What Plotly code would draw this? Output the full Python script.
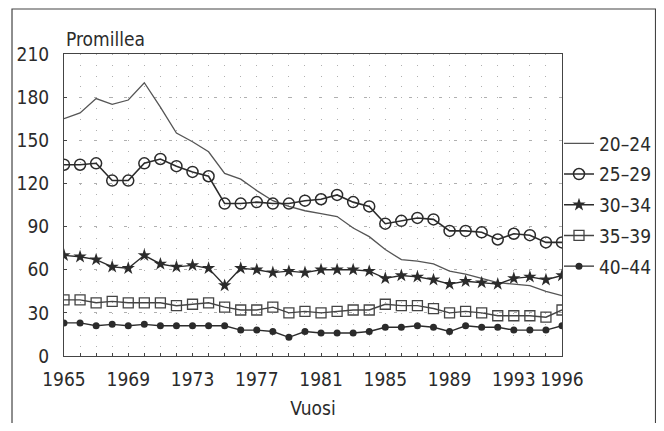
import plotly.graph_objects as go

years = list(range(1965, 1997))

s20_24 = [165, 169, 179, 175, 178, 190, 173, 155, 149, 142, 127, 123, 115, 108, 104, 101,
          99, 97, 89, 83, 74, 67, 66, 64, 59, 57, 54, 51, 50, 49, 45, 42]
s25_29 = [133, 133, 134, 122, 122, 134, 137, 132, 128, 125, 106, 106, 107, 106, 106, 108,
          109, 112, 107, 104, 92, 94, 96, 95, 87, 87, 86, 81, 85, 84, 79, 79]
s30_34 = [70, 69, 67, 62, 61, 70, 64, 62, 63, 61, 49, 61, 60, 58, 59, 58,
          60, 60, 60, 59, 54, 56, 55, 53, 50, 52, 51, 50, 54, 55, 53, 56]
s35_39 = [39, 39, 37, 38, 37, 37, 37, 35, 36, 37, 34, 32, 32, 34, 30, 31,
          30, 31, 32, 32, 36, 35, 35, 33, 30, 31, 30, 28, 28, 28, 27, 32]
s40_44 = [23, 23, 21, 22, 21, 22, 21, 21, 21, 21, 21, 18, 18, 17, 13, 17,
          16, 16, 16, 17, 20, 20, 21, 20, 17, 21, 20, 20, 18, 18, 18, 21]

labels = ["20\u201324", "25\u201329", "30\u201334", "35\u201339", "40\u201344"]
xticks = [1965, 1969, 1973, 1977, 1981, 1985, 1989, 1993, 1996]
yticks = [0, 30, 60, 90, 120, 150, 180, 210]

FONT = "Liberation Sans Narrow, Arial Narrow, DejaVu Sans Condensed, sans-serif"
INK = "#2b2b2b"

styles = [
    dict(line=dict(color="#555555", width=1.3), mode="lines", marker=None),
    dict(line=dict(color=INK, width=1.6), mode="lines+markers",
         marker=dict(symbol="circle-open", size=11, color=INK, line=dict(width=1.5))),
    dict(line=dict(color=INK, width=1.4), mode="lines+markers",
         marker=dict(symbol="star", size=10, color=INK)),
    dict(line=dict(color="#444444", width=1.4), mode="lines+markers",
         marker=dict(symbol="square-open", size=10, color="#444444", line=dict(width=1.3))),
    dict(line=dict(color=INK, width=1.4), mode="lines+markers",
         marker=dict(symbol="circle", size=7, color=INK)),
]

fig = go.Figure()
for name, vals, st in zip(labels, [s20_24, s25_29, s30_34, s35_39, s40_44], styles):
    kw = dict(x=years, y=vals, name=name, mode=st["mode"], line=st["line"], legendgroup=name)
    if st["marker"]:
        kw["marker"] = st["marker"]
    fig.add_trace(go.Scatter(**kw))

fig.update_layout(
    width=648, height=415,
    margin=dict(l=56, r=94, t=46, b=67, autoexpand=False),
    paper_bgcolor="white", plot_bgcolor="white",
    font=dict(family=FONT, size=18, color=INK),
    showlegend=True,
    legend=dict(xref="container", yref="container", x=0.8503, xanchor="left",
                y=0.7193, yanchor="top",
                font=dict(family=FONT, size=19, color=INK),
                bgcolor="rgba(0,0,0,0)", tracegroupgap=3, traceorder="grouped"),
    xaxis=dict(range=[1965, 1996], tickvals=xticks, ticktext=[str(v) for v in xticks],
               showline=True, linecolor="#444444", linewidth=1, mirror=True,
               ticks="inside", ticklen=3, tickcolor="#444444",
               showgrid=False, zeroline=False, ticklabelstandoff=6,
               tickfont=dict(family=FONT, size=19, color=INK),
               minor=dict(dtick=1, tick0=1965, ticks="inside", ticklen=3, tickcolor="#444444",
                          showgrid=True, gridcolor="#b0b0b0", griddash="1px,9.8px", gridwidth=1),
               title=dict(text="Vuosi", font=dict(family=FONT, size=19, color=INK), standoff=12)),
    yaxis=dict(range=[0, 210], tickvals=yticks,
               showline=True, linecolor="#444444", linewidth=1, mirror=True,
               ticks="inside", ticklen=3, tickcolor="#444444",
               showgrid=True, gridcolor="#b0b0b0", griddash="3px,12px", gridwidth=1,
               zeroline=False, ticklabelstandoff=10,
               tickfont=dict(family=FONT, size=19, color=INK)),
    annotations=[dict(text="Promillea", xref="paper", yref="paper", x=0.0, y=1.0,
                      xanchor="left", yanchor="bottom", yshift=2, showarrow=False,
                      font=dict(family=FONT, size=19, color=INK))],
    shapes=[dict(type="rect", xref="paper", yref="paper",
                 x0=-0.1044, x1=1.1878, y0=-0.35, y1=1.149,
                 line=dict(color="#444444", width=1.2), fillcolor="rgba(0,0,0,0)")],
)

fig.write_html("out.html")
